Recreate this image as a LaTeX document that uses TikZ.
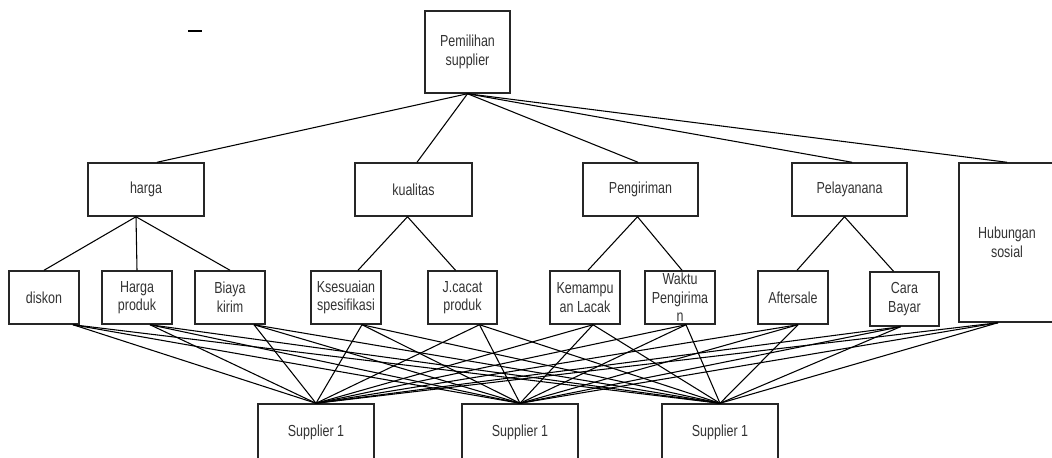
\documentclass[tikz,border=0pt]{standalone}
\usepackage{fontspec}
\newfontfamily\diafont[FakeStretch=0.78]{Liberation Sans}
\usetikzlibrary{calc}
\begin{document}
\begin{tikzpicture}[x=0.75pt,y=-0.75pt,
  box/.style 2 args={draw=black!85, line width=1.1pt, inner sep=0pt,
    minimum width=#1*0.75pt, minimum height=#2*0.75pt, align=center,
    font=\diafont\fontsize{12}{14}\selectfont, text=black!80},
  conn/.style={draw=black, line width=0.8pt},
  straymark/.style={draw=black, line width=1.3pt}]
\useasboundingbox (0,0) rectangle (1052,457);
\clip (0,0) rectangle (1052,457);
% stray dash
\coordinate (d1) at (188,31);
\coordinate (d2) at (202,31);
\draw[straymark] (d1) -- (d2);
% top
\node[box={85}{82}] (top) at (467.5,52) {Pemilihan\\supplier};
% level 2
\node[box={116}{53}] (harga) at (146,189.5) {harga};
\node[box={117}{53}] (kual) at (413.5,189.5) {kualitas};
\node[box={115}{53}] (peng) at (640.5,189.5) {Pengiriman};
\node[box={115}{53}] (pel) at (849.5,189.5) {Pelayanana};
\node[box={96}{159}] (hub) at (1007,242.5) {Hubungan\\sosial};
% level 3
\node[box={70}{53}] (disk) at (44,297.5) {diskon};
\node[box={70}{53}] (hp) at (137,297.5) {Harga\\produk};
\node[box={70}{53}] (bk) at (230,297.5) {Biaya\\kirim};
\node[box={70}{53}] (ks) at (346,297.5) {Ksesuaian\\spesifikasi};
\node[box={69}{53}] (jc) at (462.5,297.5) {J.cacat\\produk};
\node[box={70}{53}] (kl) at (585,297.5) {Kemampu\\an Lacak};
\node[box={70}{53}] (wp) at (680,297.5) {Waktu\\Pengirima\\n};
\node[box={70}{53}] (af) at (793,297.5) {Aftersale};
\node[box={69}{54}] (cb) at (904.5,299) {Cara\\Bayar};
% suppliers
\node[box={116}{56}] (s1) at (316,432) {Supplier 1};
\node[box={116}{56}] (s2) at (520,432) {Supplier 1};
\node[box={116}{56}] (s3) at (720,432) {Supplier 1};
% top -> level 2
\draw[conn] (top.south) -- ($(harga.north)+(11,0)$);
\draw[conn] (top.south) -- ($(kual.north)+(3.5,0)$);
\draw[conn] (top.south) -- ($(peng.north)+(-2.5,0)$);
\draw[conn] (top.south) -- ($(pel.north)+(2.5,0)$);
\draw[conn] (top.south) -- (hub.north);
% level 2 -> level 3
\draw[conn] ($(harga.south)+(-10,0)$) -- (disk.north);
\draw[conn] ($(harga.south)+(-10,0)$) -- (hp.north);
\draw[conn] ($(harga.south)+(-10,0)$) -- (bk.north);
\draw[conn] ($(kual.south)+(-6,0)$) -- ($(ks.north)+(12,0)$);
\draw[conn] ($(kual.south)+(-6,0)$) -- ($(jc.north)+(-7,0)$);
\draw[conn] ($(peng.south)+(-3,0)$) -- ($(kl.north)+(3,0)$);
\draw[conn] ($(peng.south)+(-3,0)$) -- ($(wp.north)+(2,0)$);
\draw[conn] ($(pel.south)+(-5,0)$) -- ($(af.north)+(4,0)$);
\draw[conn] ($(pel.south)+(-5,0)$) -- ($(cb.north)+(-11,0)$);
% level 3 -> suppliers
\foreach \n/\dx in {disk/29, hp/13, bk/24, ks/16, jc/17, kl/8, wp/6, af/5, cb/-4, hub/-9}{
  \foreach \s in {s1,s2,s3}{
    \draw[conn] ($(\n.south)+(\dx,0)$) -- (\s.north);
  }
}
\end{tikzpicture}
\end{document}
